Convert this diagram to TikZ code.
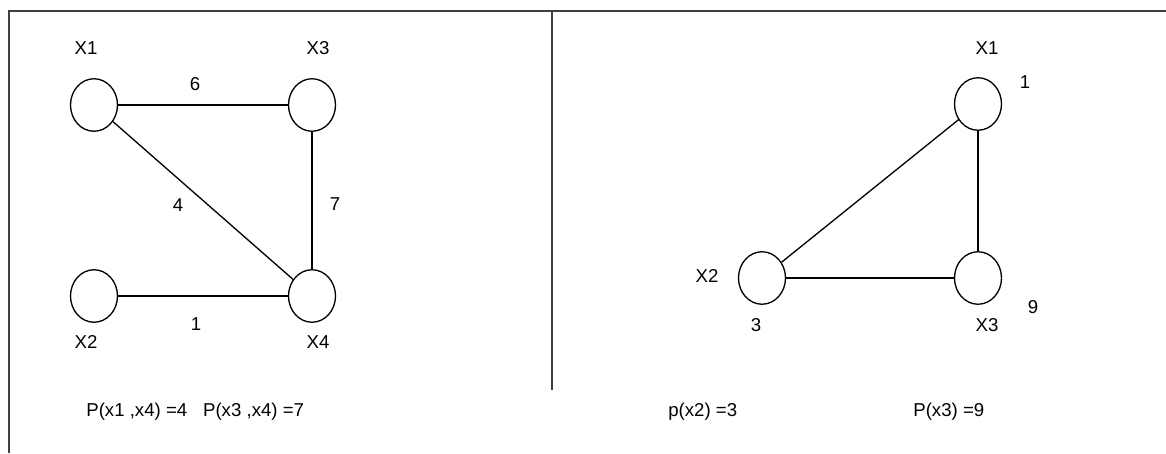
\documentclass[tikz,border=0pt]{standalone}
\usepackage{fontspec}
\setmainfont{Liberation Sans}
\usetikzlibrary{shapes.geometric}

\begin{document}
\begin{tikzpicture}[
        vertex/.style={draw, ellipse, line width=0.75pt, minimum width=0.94cm, minimum height=1.05cm, inner sep=0pt},
        lbl/.style={font=\fontsize{10.6}{12}\selectfont, inner sep=0pt},
        edge/.style={line width=0.75pt},
        frameline/.style={line width=1.1pt, color=black!75}
    ]
        \useasboundingbox (0,0) rectangle (23.32,9.06);

        % Frame
        \draw[frameline] (0.18,0) -- (0.18,8.84) -- (23.32,8.84);
        \draw[frameline] (11.04,8.84) -- (11.04,1.26);

        % Left graph
        \node[vertex] (a1) at (1.88,6.96) {};
        \node[vertex] (a3) at (6.24,6.96) {};
        \node[vertex] (a2) at (1.88,3.14) {};
        \node[vertex] (a4) at (6.24,3.14) {};

        \node[lbl] at (1.72,8.1) {X1};
        \node[lbl] at (6.36,8.1) {X3};
        \node[lbl] at (1.72,2.22) {X2};
        \node[lbl] at (6.36,2.22) {X4};

        \draw[edge] (a1) -- (a3);
        \draw[edge] (a1) -- (a4);
        \draw[edge] (a3) -- (a4);
        \draw[edge] (a2) -- (a4);

        \node[lbl] at (3.9,7.38) {6};
        \node[lbl] at (3.56,4.96) {4};
        \node[lbl] at (6.7,4.98) {7};
        \node[lbl] at (3.92,2.58) {1};

        \node[lbl, anchor=west] at (1.72,0.82) {P(x1 ,x4) =4\hspace{0.85em}P(x3 ,x4) =7};

        % Right graph
        \node[vertex] (b1) at (19.56,6.98) {};
        \node[vertex] (b2) at (15.24,3.5) {};
        \node[vertex] (b3) at (19.56,3.5) {};

        \node[lbl] at (19.74,8.1) {X1};
        \node[lbl] at (20.5,7.42) {1};
        \node[lbl] at (14.14,3.54) {X2};
        \node[lbl] at (15.12,2.56) {3};
        \node[lbl] at (19.74,2.56) {X3};
        \node[lbl] at (20.66,2.92) {9};

        \draw[edge] (b1) -- (b2);
        \draw[edge] (b1) -- (b3);
        \draw[edge] (b2) -- (b3);

        \node[lbl, anchor=west] at (13.36,0.82) {p(x2) =3};
        \node[lbl, anchor=west] at (18.26,0.82) {P(x3) =9};

    \end{tikzpicture}
\end{document}
